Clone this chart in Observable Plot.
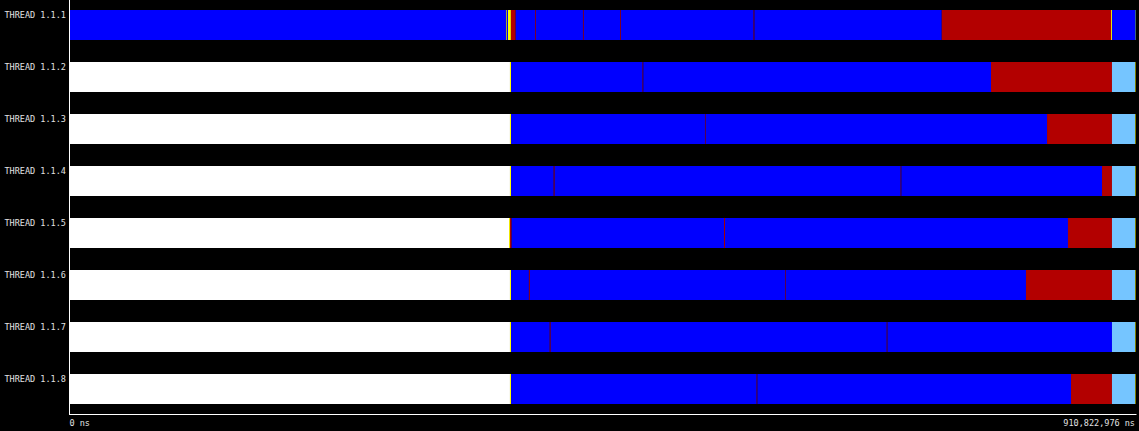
<!DOCTYPE html>
<html>
<head>
<meta charset="utf-8">
<script src="https://cdn.jsdelivr.net/npm/d3@7"></script>
<script src="https://cdn.jsdelivr.net/npm/@observablehq/plot@0.6"></script>
<style>
  html, body { margin: 0; padding: 0; background: #000; }
  #timeline { width: 1139px; height: 431px; }
</style>
</head>
<body>
<div id="timeline"></div>
<script>
/*
 * Paraver-style thread state timeline: one row per thread, each row a run of
 * state bursts along a ns time axis. Times below are read off the trace view.
 */

const TOTAL_NS = 910822976;

const threads = [
  "THREAD 1.1.1", "THREAD 1.1.2", "THREAD 1.1.3", "THREAD 1.1.4",
  "THREAD 1.1.5", "THREAD 1.1.6", "THREAD 1.1.7", "THREAD 1.1.8",
];

const stateNames = ["Idle", "Running", "Not created", "Synchronization", "Scheduling and Fork/Join"];
const stateColors = ["#75c5ff", "#0000ff", "#ffffff", "#b30000", "#ffff00"];

// [state, start ns, end ns]
const thread1 = [
  ["Running", 0, 372.7e6],
  ["Scheduling and Fork/Join", 372.7e6, 373.4e6],
  ["Running", 373.4e6, 374.4e6],
  ["Scheduling and Fork/Join", 374.4e6, 376.9e6],
  ["Synchronization", 376.9e6, 381.0e6],
  ["Running", 381.0e6, 397.5e6],
  ["Synchronization", 397.5e6, 398.2e6],
  ["Running", 398.2e6, 438.5e6],
  ["Synchronization", 438.5e6, 439.2e6],
  ["Running", 439.2e6, 470.2e6],
  ["Synchronization", 470.2e6, 470.9e6],
  ["Running", 470.9e6, 584.4e6],
  ["Synchronization", 584.4e6, 585.1e6],
  ["Running", 585.1e6, 745.2e6],
  ["Synchronization", 745.2e6, 889.9e6],
  ["Scheduling and Fork/Join", 889.9e6, 890.7e6],
  ["Running", 890.7e6, 910.4e6],
  ["Idle", 910.4e6, TOTAL_NS],
];

const thread2 = [
  ["Not created", 0, 376.1e6],
  ["Scheduling and Fork/Join", 376.1e6, 377.0e6],
  ["Running", 377.0e6, 489.5e6],
  ["Synchronization", 489.5e6, 490.1e6],
  ["Running", 490.1e6, 787.3e6],
  ["Synchronization", 787.3e6, 890.7e6],
  ["Idle", 890.7e6, 910.4e6],
  ["Scheduling and Fork/Join", 910.4e6, TOTAL_NS],
];

const thread3 = [
  ["Not created", 0, 376.1e6],
  ["Scheduling and Fork/Join", 376.1e6, 377.0e6],
  ["Running", 377.0e6, 542.8e6],
  ["Synchronization", 542.8e6, 543.4e6],
  ["Running", 543.4e6, 835.2e6],
  ["Synchronization", 835.2e6, 890.7e6],
  ["Idle", 890.7e6, 910.4e6],
  ["Scheduling and Fork/Join", 910.4e6, TOTAL_NS],
];

const thread4 = [
  ["Not created", 0, 376.1e6],
  ["Scheduling and Fork/Join", 376.1e6, 377.0e6],
  ["Running", 377.0e6, 413.5e6],
  ["Synchronization", 413.5e6, 414.3e6],
  ["Running", 414.3e6, 710.1e6],
  ["Synchronization", 710.1e6, 710.7e6],
  ["Running", 710.7e6, 882.2e6],
  ["Synchronization", 882.2e6, 890.7e6],
  ["Idle", 890.7e6, 910.4e6],
  ["Scheduling and Fork/Join", 910.4e6, TOTAL_NS],
];

const thread5 = [
  ["Not created", 0, 375.3e6],
  ["Scheduling and Fork/Join", 375.3e6, 376.1e6],
  ["Synchronization", 376.1e6, 377.5e6],
  ["Running", 377.5e6, 559.1e6],
  ["Synchronization", 559.1e6, 559.9e6],
  ["Running", 559.9e6, 853.1e6],
  ["Synchronization", 853.1e6, 890.7e6],
  ["Idle", 890.7e6, 910.4e6],
  ["Scheduling and Fork/Join", 910.4e6, TOTAL_NS],
];

const thread6 = [
  ["Not created", 0, 376.1e6],
  ["Scheduling and Fork/Join", 376.1e6, 377.0e6],
  ["Running", 377.0e6, 392.3e6],
  ["Synchronization", 392.3e6, 393.1e6],
  ["Running", 393.1e6, 611.2e6],
  ["Synchronization", 611.2e6, 611.8e6],
  ["Running", 611.8e6, 817.2e6],
  ["Synchronization", 817.2e6, 890.7e6],
  ["Idle", 890.7e6, 910.4e6],
  ["Scheduling and Fork/Join", 910.4e6, TOTAL_NS],
];

const thread7 = [
  ["Not created", 0, 376.1e6],
  ["Scheduling and Fork/Join", 376.1e6, 377.0e6],
  ["Running", 377.0e6, 410.1e6],
  ["Synchronization", 410.1e6, 410.9e6],
  ["Running", 410.9e6, 698.2e6],
  ["Synchronization", 698.2e6, 698.8e6],
  ["Running", 698.8e6, 890.7e6],
  ["Idle", 890.7e6, 910.4e6],
  ["Scheduling and Fork/Join", 910.4e6, TOTAL_NS],
];

const thread8 = [
  ["Not created", 0, 376.1e6],
  ["Scheduling and Fork/Join", 376.1e6, 377.0e6],
  ["Running", 377.0e6, 587.0e6],
  ["Synchronization", 587.0e6, 587.6e6],
  ["Running", 587.6e6, 855.7e6],
  ["Synchronization", 855.7e6, 890.7e6],
  ["Idle", 890.7e6, 910.4e6],
  ["Scheduling and Fork/Join", 910.4e6, TOTAL_NS],
];

const rows = [thread1, thread2, thread3, thread4, thread5, thread6, thread7, thread8];

const bursts = rows.flatMap((segs, i) =>
  segs.map(([state, start, end]) => ({ thread: threads[i], state, start, end }))
);

const FONT = "'DejaVu Sans Mono', monospace";
const TEXT_COLOR = "#e2e2e2";
const fmtNs = (d) => d3.format(",")(d) + " ns";

const plot = Plot.plot({
  width: 1139,
  height: 431,
  marginTop: 0,
  marginLeft: 70,
  marginRight: 3.5,
  marginBottom: 17,
  style: { background: "#000", fontFamily: FONT },
  x: { domain: [0, TOTAL_NS], axis: null },
  y: { type: "band", domain: threads, range: [9.5, 404.9], paddingInner: 0.425, paddingOuter: 0, axis: null },
  color: { domain: stateNames, range: stateColors },
  marks: [
    Plot.barX(bursts, { x1: "start", x2: "end", y: "thread", fill: "state" }),
    Plot.frame({ anchor: "left", stroke: "#fff", dx: -1 }),
    Plot.frame({ anchor: "bottom", stroke: "#fff" }),
    Plot.text(threads, {
      y: (d) => d, text: (d) => d,
      frameAnchor: "left", dx: -66, dy: -10.5,
      textAnchor: "start", fontSize: 8.5, fill: TEXT_COLOR,
    }),
    Plot.text([0], {
      x: (d) => d, text: fmtNs,
      frameAnchor: "bottom", lineAnchor: "top", dy: 5, dx: -1,
      textAnchor: "start", fontSize: 8.5, fill: TEXT_COLOR,
    }),
    Plot.text([TOTAL_NS], {
      x: (d) => d, text: fmtNs,
      frameAnchor: "bottom", lineAnchor: "top", dy: 5, dx: -1,
      textAnchor: "end", fontSize: 8.5, fill: TEXT_COLOR,
    }),
  ],
});

document.getElementById("timeline").appendChild(plot);
</script>
</body>
</html>
